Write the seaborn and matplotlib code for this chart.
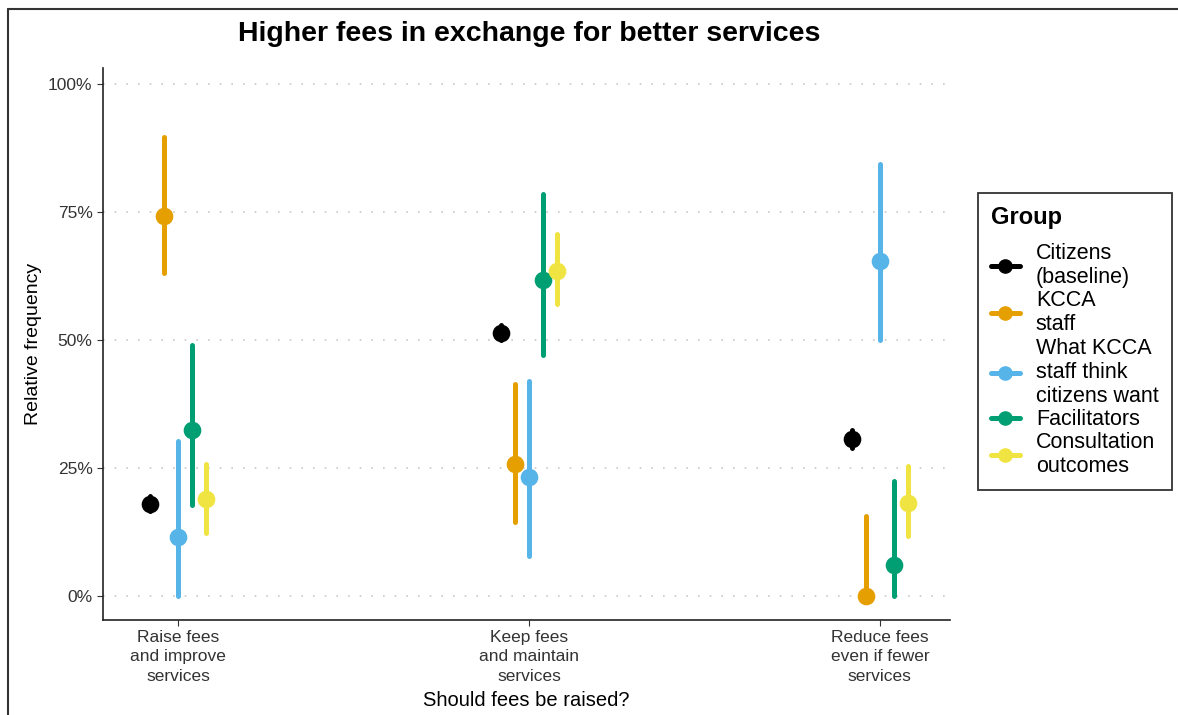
import pandas as pd
import numpy as np
import matplotlib as mpl
import matplotlib.pyplot as plt
import seaborn as sns
from matplotlib.lines import Line2D
from matplotlib.ticker import PercentFormatter

categories = ["Raise fees\nand improve\nservices",
              "Keep fees\nand maintain\nservices",
              "Reduce fees\neven if fewer\nservices"]
groups = ["Citizens\n(baseline)", "KCCA\nstaff", "What KCCA\nstaff think\ncitizens want",
          "Facilitators", "Consultation\noutcomes"]
colors = ["#000000", "#E69F00", "#56B4E9", "#009E73", "#F0E442"]

# one row per group, one column per category
estimate = [[0.180, 0.514, 0.307],
            [0.742, 0.258, 0.000],
            [0.115, 0.232, 0.654],
            [0.324, 0.617, 0.060],
            [0.190, 0.635, 0.182]]
ci_low = [[0.165, 0.500, 0.289],
          [0.630, 0.145, 0.000],
          [0.000, 0.078, 0.500],
          [0.178, 0.470, 0.000],
          [0.123, 0.570, 0.117]]
ci_high = [[0.195, 0.530, 0.324],
           [0.896, 0.414, 0.156],
           [0.303, 0.420, 0.844],
           [0.490, 0.785, 0.225],
           [0.258, 0.707, 0.254]]

#ARMA EL DATAFRAME LARGO: lo, estimado, hi POR CADA PUNTO
rows = []
for gi, g in enumerate(groups):
    for ci, c in enumerate(categories):
        for v in (ci_low[gi][ci], estimate[gi][ci], ci_high[gi][ci]):
            rows.append({"category": c, "group": g, "value": v})
df = pd.DataFrame(rows)

sns.set_style("ticks")
plt.rcParams['font.family'] = ['Liberation Sans', 'DejaVu Sans']
plt.rcParams['text.color'] = 'black'
plt.rcParams['axes.labelcolor'] = 'black'

fig = plt.figure(figsize=(11.78, 7.15), dpi=100)
ax = fig.add_axes([0.0874, 0.1329, 0.8065 - 0.0874, 0.9049 - 0.1329])

sns.pointplot(data=df, x="category", y="value", hue="group", order=categories,
              hue_order=groups, palette=colors, estimator="median",
              errorbar=lambda v: (v.min(), v.max()), dodge=0.16,
              linestyle="none", markers="o", markersize=10, linewidth=3.6,
              legend=False, ax=ax)

ax.set_xlim(-0.215, 2.2)
ax.set_ylim(-0.047, 1.031)
ax.set_yticks([0, 0.25, 0.5, 0.75, 1.0])
ax.yaxis.set_major_formatter(PercentFormatter(1.0, decimals=0))
ax.grid(axis="y", color="#c8c8c8", linestyle=(0, (1, 6)), linewidth=1.2)
ax.set_axisbelow(True)
for s in ["top", "right"]:
    ax.spines[s].set_visible(False)
for s in ["left", "bottom"]:
    ax.spines[s].set_color("#222222")
    ax.spines[s].set_linewidth(1.2)
ax.tick_params(axis="both", labelsize=12.5, length=4, color="#333333", labelcolor="#333333")
ax.tick_params(axis="x", pad=3)
ax.set_xlabel("Should fees be raised?", fontsize=14.5, labelpad=5)
ax.set_ylabel("Relative frequency", fontsize=14, labelpad=4)

fig.text(0.449, 0.953, "Higher fees in exchange for better services",
         ha="center", va="center", fontsize=20.5, fontweight="bold")

handles = [Line2D([0], [0], color=c, lw=3.6, marker="o", markersize=9.5) for c in colors]
leg = fig.legend(handles, groups, loc="upper left", bbox_to_anchor=(0.830, 0.730),
                 bbox_transform=fig.transFigure, borderaxespad=0, frameon=True,
                 fancybox=False, edgecolor="black", title="Group", fontsize=15.5,
                 title_fontproperties={"weight": "bold", "size": 17},
                 labelspacing=0.1, handlelength=1.35, handletextpad=0.75,
                 borderpad=0.6, alignment="left")
leg._legend_box.sep = 10
leg.get_frame().set_linewidth(1.3)

# marco de la captura
fig.add_artist(Line2D([8 / 1178, 8 / 1178], [0, 1 - 9 / 715], color="#333333", lw=1.5,
                      transform=fig.transFigure))
fig.add_artist(Line2D([8 / 1178, 1], [1 - 9 / 715, 1 - 9 / 715], color="#333333", lw=1.5,
                      transform=fig.transFigure))

fig.canvas.draw()
for lbl in ax.get_xticklabels():
    lbl.set_linespacing(1.4)

fig.savefig("out.png", dpi=100)
